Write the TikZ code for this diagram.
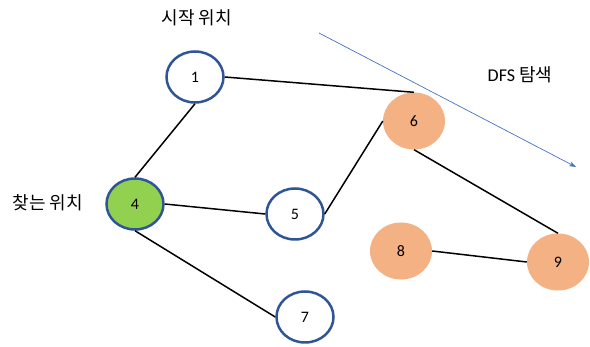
\documentclass[tikz,border=0pt]{standalone}
\usepackage{fontspec}
\setmainfont{Carlito}
\newfontfamily\kr{Noto Sans CJK KR}
\usetikzlibrary{shapes.geometric,arrows.meta}
\definecolor{ringblue}{HTML}{2F5597}
\definecolor{foundgreen}{HTML}{92D050}
\definecolor{visitorange}{HTML}{F4B183}
\definecolor{arrowblue}{HTML}{4472C4}
\begin{document}
\begin{tikzpicture}[x=1pt,y=-1pt,
  vertex/.style={ellipse, draw=ringblue, line width=2.5pt, fill=#1,
    minimum width=57pt, minimum height=51pt, inner sep=0pt,
    font=\fontsize{16}{19}\selectfont},
  visited/.style={ellipse, fill=visitorange, minimum width=62pt,
    minimum height=57pt, inner sep=0pt, font=\fontsize{16}{19}\selectfont},
  edge/.style={line width=1.5pt},
  label/.style={font=\kr\fontsize{18}{21}\selectfont}
]
\useasboundingbox (0,0) rectangle (590,347);
% vertices
\node[vertex=white] (n1) at (195,77) {1};
\node[vertex=foundgreen] (n4) at (135,204) {4};
\node[vertex=white] (n5) at (295,214) {5};
\node[vertex=white] (n7) at (305,317) {7};
\node[visited] (n6) at (414,121) {6};
\node[visited] (n8) at (401,251) {8};
\node[visited] (n9) at (558,262) {9};
% edges
\draw[edge] (n1.east) -- (n6.north);
\draw[edge] (n1.south) -- (n4.north);
\draw[edge] (n4.east) -- (n5.west);
\draw[edge] (n4.south) -- (n7.west);
\draw[edge] (n5.east) -- (n6.west);
\draw[edge] (n6.south) -- (n9.north);
\draw[edge] (n8.east) -- (n9.west);
% search direction
\coordinate (dfsA) at (319,33);
\coordinate (dfsB) at (576,167);
\draw[arrowblue, line width=0.7pt, -{Stealth[length=7pt,width=5pt]}] (dfsA) -- (dfsB);
% labels
\node[label] (start) at (197,18) {시작 위치};
\node[label] (goal) at (48,203) {찾는 위치};
\node[label] (dfs) at (520,75) {{\fontspec{Carlito}DFS} 탐색};
\end{tikzpicture}
\end{document}
